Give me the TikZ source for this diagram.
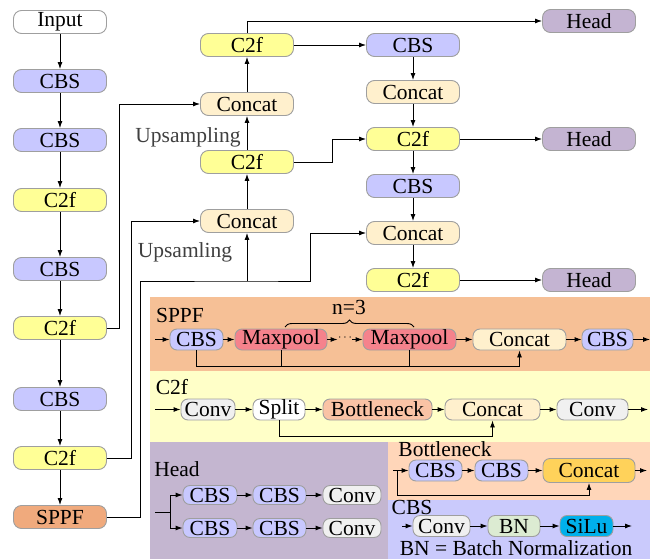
\documentclass[tikz,border=0pt]{standalone}
\usepackage{fontspec}
\setmainfont{Liberation Serif}
\usetikzlibrary{arrows.meta,positioning,shapes,decorations.pathreplacing}
\definecolor{cbsC}{RGB}{200,200,255}
\definecolor{c2fC}{RGB}{255,255,150}
\definecolor{catC}{RGB}{255,240,205}
\definecolor{headC}{RGB}{196,180,210}
\definecolor{sppfC}{RGB}{240,170,125}
\definecolor{mpC}{RGB}{245,130,140}
\definecolor{btC}{RGB}{250,195,165}
\definecolor{convC}{RGB}{240,240,240}
\definecolor{bnC}{RGB}{220,235,210}
\definecolor{siluC}{RGB}{0,176,235}
\definecolor{goldC}{RGB}{255,210,90}
\definecolor{pSppf}{RGB}{246,192,150}
\definecolor{pC2f}{RGB}{255,255,200}
\definecolor{pHead}{RGB}{196,182,208}
\definecolor{pBott}{RGB}{255,214,185}
\definecolor{pCbs}{RGB}{202,202,252}
\tikzset{
  blk/.style={draw=gray!75, rounded corners=8pt, minimum width=93pt, minimum height=23pt, inner sep=0pt},
  sm/.style={draw=gray!75, rounded corners=7pt, minimum height=21pt, inner sep=0pt},
  lbl/.style={inner sep=0pt}
}
\begin{document}
\begin{tikzpicture}[x=1pt,y=-1pt,line width=0.9pt,>={Latex[length=7pt,width=5pt]},
  font=\fontsize{21.5}{23}\selectfont]
\useasboundingbox (0,0) rectangle (650,559);
\fill[pSppf] (150,297) rectangle (650,371);
\fill[pC2f] (150,371) rectangle (650,442);
\fill[pHead] (150,442) rectangle (388,559);
\fill[pBott] (388,442) rectangle (650,500);
\fill[pCbs] (388,500) rectangle (650,559);

\node[blk,fill=white] (in) at (60,22) {Input};
\node[blk,fill=cbsC] (b1) at (60,81) {CBS};
\node[blk,fill=cbsC] (b2) at (60,140) {CBS};
\node[blk,fill=c2fC] (b3) at (60,200) {C2f};
\node[blk,fill=cbsC] (b4) at (60,269) {CBS};
\node[blk,fill=c2fC] (b5) at (60,328) {C2f};
\node[blk,fill=cbsC] (b6) at (60,399) {CBS};
\node[blk,fill=c2fC] (b7) at (60,458) {C2f};
\node[blk,fill=sppfC] (b8) at (60,517) {SPPF};
\foreach \a/\b in {in/b1,b1/b2,b2/b3,b3/b4,b4/b5,b5/b6,b6/b7,b7/b8}
  \draw[->] (\a) -- (\b);

\node[blk,fill=catC] (m1) at (247,221) {Concat};
\node[blk,fill=c2fC] (m2) at (247,162) {C2f};
\node[blk,fill=catC] (m3) at (247,104) {Concat};
\node[blk,fill=c2fC] (m4) at (247,45) {C2f};
\foreach \a/\b in {m1/m2,m2/m3,m3/m4}
  \draw[->] (\a) -- (\b);
\node[lbl,text=black!75] (up1) at (188,137) {Upsampling};
\node[lbl,text=black!75] (up2) at (185,252) {Upsamling};

\node[blk,fill=cbsC] (r1) at (413,45) {CBS};
\node[blk,fill=catC] (r2) at (413,92) {Concat};
\node[blk,fill=c2fC] (r3) at (413,139) {C2f};
\node[blk,fill=cbsC] (r4) at (413,186) {CBS};
\node[blk,fill=catC] (r5) at (413,233) {Concat};
\node[blk,fill=c2fC] (r6) at (413,280) {C2f};
\foreach \a/\b in {r1/r2,r2/r3,r3/r4,r4/r5,r5/r6}
  \draw[->] (\a) -- (\b);

\node[blk,fill=headC] (h1) at (589,21) {Head};
\node[blk,fill=headC] (h2) at (589,139) {Head};
\node[blk,fill=headC] (h3) at (589,280) {Head};

\draw[->] (b5.east) -- ++(12,0) |- (m3.west);
\draw[->] (b7.east) -- ++(24,0) |- (m1.west);
\coordinate (j) at (247,281);
\draw[->] (b8.east) -- ++(33,0) |- (j) -- (310,281) |- (r5.west);
\draw[->] (j) -- (m1.south);
\draw[->] (m2.east) -- (332,162) |- (r3.west);
\draw[->] (m4.east) -- (r1.west);
\draw[->] (m4.north) |- (h1.west);
\draw[->] (r3.east) -- (h2.west);
\draw[->] (r6.east) -- (h3.west);

\node[lbl] (tS) at (180,315) {SPPF};
\node[sm,fill=cbsC,minimum width=53pt] (s1) at (196.5,339.5) {CBS};
\node[sm,fill=mpC,minimum width=92pt] (s2) at (281,339.5) {Maxpool};
\node[lbl,font=\fontsize{12}{12}\selectfont] (dt) at (345,338) {$\cdots$};
\node[sm,fill=mpC,minimum width=93pt] (s3) at (409.5,339.5) {Maxpool};
\node[sm,fill=catC,minimum width=93pt] (s4) at (519.5,339.5) {Concat};
\node[sm,fill=cbsC,minimum width=51pt] (s5) at (607.5,339.5) {CBS};
\draw[->] (155,339.5) -- (s1.west);
\draw[->] (s1) -- (s2);
\draw[->] (s2.east) -- (dt.west |- s2.east);
\draw[->] (dt.east |- s3.west) -- (s3.west);
\draw[->] (s3) -- (s4);
\draw[->] (s4) -- (s5);
\draw[->] (s5.east) -- (650,339.5);
\draw[->] (s1.south) -- ++(0,16) -| (s4.south);
\draw (s2.south) -- ++(0,16);
\draw (s3.south) -- ++(0,16);
\draw[decorate,decoration={brace,amplitude=7pt}] (285,327) -- (414,327);
\node[lbl] (n3) at (349,307) {n=3};

\node[lbl] (tC) at (172,387) {C2f};
\node[sm,fill=convC,minimum width=54pt] (c1) at (208,409.5) {Conv};
\node[sm,fill=white,minimum width=52pt] (c2) at (279,409.5) {Split};
\node[sm,fill=btC,minimum width=109pt] (c3) at (377.5,409.5) {Bottleneck};
\node[sm,fill=catC,minimum width=95pt] (c4) at (492.5,409.5) {Concat};
\node[sm,fill=convC,minimum width=71pt] (c5) at (592.5,409.5) {Conv};
\draw[->] (155,409.5) -- (c1.west);
\foreach \a/\b in {c1/c2,c2/c3,c3/c4,c4/c5}
  \draw[->] (\a) -- (\b);
\draw[->] (c5.east) -- (648,409.5);
\draw[->] (c2.south) -- ++(0,16) -| (c4.south);

\node[lbl] (tH) at (177,469) {Head};
\node[sm,fill=cbsC,minimum width=54pt,minimum height=19pt] (ha1) at (210,495) {CBS};
\node[sm,fill=cbsC,minimum width=53pt,minimum height=19pt] (ha2) at (279.5,495) {CBS};
\node[sm,fill=convC,minimum width=58pt,minimum height=19pt] (ha3) at (352,495) {Conv};
\node[sm,fill=cbsC,minimum width=54pt,minimum height=19pt] (hb1) at (210,528) {CBS};
\node[sm,fill=cbsC,minimum width=53pt,minimum height=19pt] (hb2) at (279.5,528) {CBS};
\node[sm,fill=convC,minimum width=58pt,minimum height=19pt] (hb3) at (352,528) {Conv};
\coordinate (hs) at (170,512);
\draw (155,512) -- (hs);
\draw[->] (hs) |- (ha1.west);
\draw[->] (hs) |- (hb1.west);
\foreach \a/\b in {ha1/ha2,ha2/ha3,hb1/hb2,hb2/hb3}
  \draw[->] (\a) -- (\b);

\node[lbl] (tB) at (445,449) {Bottleneck};
\node[sm,fill=cbsC,minimum width=53pt] (k1) at (435.5,470.5) {CBS};
\node[sm,fill=cbsC,minimum width=53pt] (k2) at (501.5,470.5) {CBS};
\node[sm,fill=goldC,minimum width=92pt,minimum height=24pt] (k3) at (589,470.5) {Concat};
\draw[->] (393,470.5) -- (k1.west);
\draw[->] (k1) -- (k2);
\draw[->] (k2) -- (k3);
\draw[->] (k3.east) -- (647,470.5);
\draw[->] (397,470.5) -- (397,495) -| (k3.south);

\node[lbl] (tB2) at (412,507) {CBS};
\node[sm,fill=convC,minimum width=57pt] (q1) at (441.5,526) {Conv};
\node[sm,fill=bnC,minimum width=52pt] (q2) at (514,526) {BN};
\node[sm,fill=siluC,minimum width=53pt] (q3) at (586.5,526) {SiLu};
\draw[->] (402,526) -- (q1.west);
\draw[->] (q1) -- (q2);
\draw[->] (q2) -- (q3);
\draw[->] (q3.east) -- (632,526);
\node[lbl] (bnt) at (516,548) {BN = Batch Normalization};
\end{tikzpicture}
\end{document}
